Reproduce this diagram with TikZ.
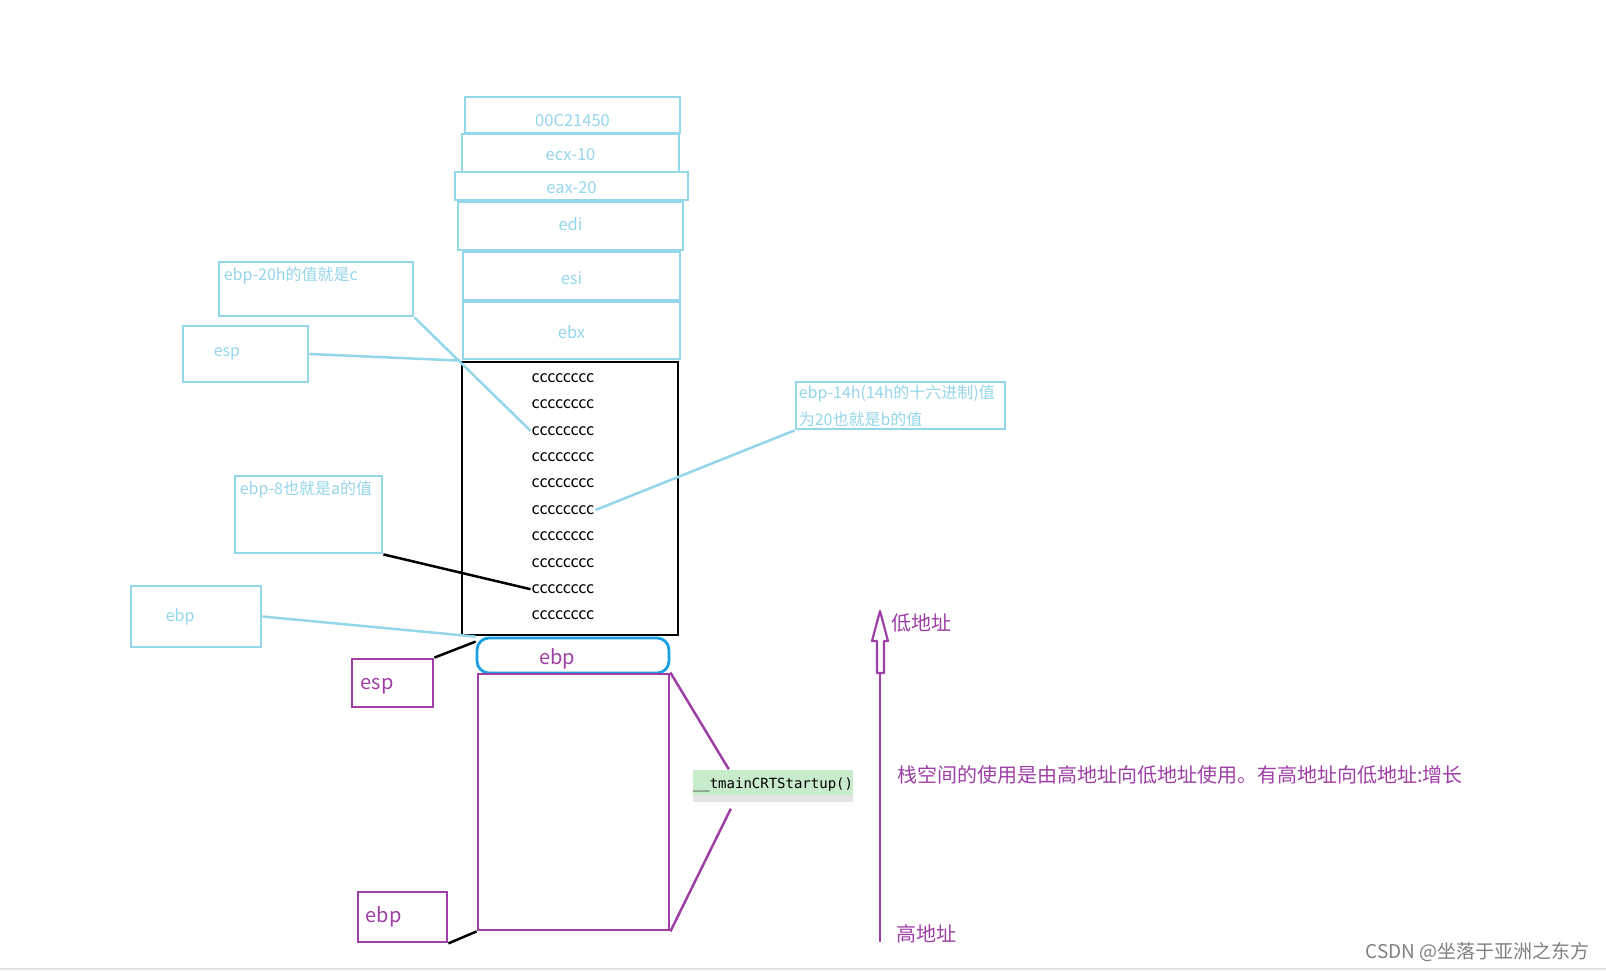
\documentclass[tikz,border=0pt]{standalone}
\usepackage{fontspec}
\setmainfont{Noto Sans CJK SC}
\newfontfamily\codefont{DejaVu Sans Mono}
\usetikzlibrary{positioning}
\definecolor{stackcyan}{HTML}{94D6EA}
\definecolor{stackpurple}{HTML}{9E3FA6}
\definecolor{slotblue}{HTML}{1B9FE3}
\definecolor{codegreen}{HTML}{C8ECCB}

\begin{document}
\begin{tikzpicture}[x=1pt,y=-1pt,
    cell/.style={draw=stackcyan,line width=2.8pt,inner sep=0pt},
    cell text/.style={text=stackcyan,inner sep=0pt,font=\fontsize{16.5}{19}\selectfont},
    note/.style={draw=stackcyan,line width=2.8pt,inner sep=0pt},
    note text/.style={text=stackcyan,inner sep=6pt,font=\fontsize{16}{27}\selectfont,align=left},
    crow/.style={inner sep=1pt,font=\fontsize{16}{19}\selectfont},
    reg/.style={draw=stackpurple,line width=2.8pt,inner sep=0pt},
    reg text/.style={text=stackpurple,inner sep=0pt,font=\fontsize{20}{24}\selectfont},
    addr/.style={text=stackpurple,font=\fontsize{20}{24}\selectfont,inner sep=0pt},
    cyanlink/.style={stackcyan,line width=2.5pt},
    blacklink/.style={black,line width=2.5pt},
    purplelink/.style={stackpurple,line width=2.5pt}]

  \useasboundingbox (0,0) rectangle (1606,971);
  \fill[white] (0,0) rectangle (1606,971);

  % saved registers, top of the stack
  \node[cell,minimum width=215pt,minimum height=36pt,label={[cell text,yshift=-5pt]center:00C21450}] (ret) at (572.5,115) {};
  \node[cell,minimum width=217pt,minimum height=38pt,label={[cell text,yshift=-1.5pt]center:ecx-10}] (ecx) at (570.5,153) {};
  \node[cell,minimum width=233pt,minimum height=28pt,label={[cell text,yshift=-1.5pt]center:eax-20}] (eax) at (571.5,186) {};
  \node[cell,minimum width=225pt,minimum height=48pt,label={[cell text,yshift=2pt]center:edi}] (edi) at (570.5,226) {};
  \node[cell,minimum width=217pt,minimum height=48pt,label={[cell text,yshift=-2pt]center:esi}] (esi) at (571.5,276) {};
  \node[cell,minimum width=217pt,minimum height=57pt,label={[cell text,yshift=-2pt]center:ebx}] (ebx) at (571.5,330.5) {};

  % local variable area
  \node[draw,line width=2.8pt,minimum width=216pt,minimum height=273pt,inner sep=0pt] (frame) at (570,498.5) {};
  \foreach \i in {1,...,10}
    \node[crow] (c\i) at (563,{378+26.4*(\i-1)}) {cccccccc};

  % notes
  \node[note,minimum width=194pt,minimum height=54pt,
        label={[note text,anchor=north west]north west:ebp-20h的值就是c}] (note20) at (316,289) {};
  \node[note,minimum width=125pt,minimum height=56pt,
        label={[note text,anchor=west,xshift=26pt]west:esp}] (espnote) at (245.5,354) {};
  \node[note,minimum width=209pt,minimum height=47pt,
        label={[note text,anchor=north west,inner sep=4pt]north west:{ebp-14h(14h的十六进制)值\\为20也就是b的值}}] (note14) at (900.5,405.5) {};
  \node[note,minimum width=147pt,minimum height=77pt,
        label={[note text,anchor=north west]north west:ebp-8也就是a的值}] (note8) at (308.5,514.5) {};
  \node[note,minimum width=130pt,minimum height=61pt,
        label={[note text,anchor=west,xshift=30pt]west:ebp}] (ebpnote) at (196,616.5) {};

  % caller frame
  \node[draw=slotblue,line width=2.8pt,rounded corners=12pt,minimum width=192pt,minimum height=35pt] (ebpslot) at (573,655.5) {};
  \node[reg text] (ebpslotlabel) at (557,659) {ebp};
  \node[reg,minimum width=191pt,minimum height=256pt] (caller) at (573.5,802) {};
  \node[reg,minimum width=81pt,minimum height=48pt,
        label={[reg text,anchor=west,xshift=10pt,yshift=-3pt]west:esp}] (espreg) at (392.5,683) {};
  \node[reg,minimum width=89pt,minimum height=50pt,
        label={[reg text,anchor=west,xshift=9pt]west:ebp}] (ebpreg) at (402.5,917) {};

  \node[fill=codegreen,minimum width=160pt,minimum height=25pt,inner sep=0pt,
        label={[inner sep=0pt,yshift=-3pt,font=\codefont\fontsize{14}{16}\selectfont]center:\_\_tmainCRTStartup()}] (tmain) at (773,782) {};
  \fill[black!10] (tmain.south west) rectangle ++(160,7);

  % connectors
  \draw[cyanlink] (note20.south east) -- (c3.west);
  \draw[cyanlink] (espnote.east) -- (frame.north west);
  \draw[cyanlink] (note14.south west) -- (c6.east);
  \draw[cyanlink] (ebpnote.east) -- (ebpslot.north west);
  \draw[blacklink] (note8.south east) -- (c9.west);
  \draw[blacklink] (espreg.north east) -- ([yshift=-5pt]ebpslot.north west);
  \draw[blacklink] (ebpreg.south east) -- (caller.south west);
  \draw[purplelink] (caller.north east) -- ([xshift=36pt]tmain.north west);
  \draw[purplelink] (caller.south east) -- ([xshift=38pt,yshift=-14pt]tmain.south west);

  % address direction
  \coordinate (hightip) at (880,942);
  \coordinate (shafttop) at (880,673);
  \draw[stackpurple,line width=2.2pt,line join=round]
    (880,611) -- (888,641) -- (884,641) -- (884,673) -- (877,673) -- (877,641) -- (872,641) -- cycle;
  \draw[stackpurple,line width=2.8pt] (shafttop) -- (hightip);
  \node[addr,anchor=west] (low)  at (891,623) {低地址};
  \node[addr,anchor=west] (high) at (896,934) {高地址};
  \node[addr,anchor=west] (usage) at (897,775) {栈空间的使用是由高地址向低地址使用。有高地址向低地址:增长};

  \node[anchor=east,text=black!50,font=\fontsize{19}{22}\selectfont,inner sep=0pt] (mark) at (1590,952) {CSDN @坐落于亚洲之东方};
  \draw[black!12,line width=1.5pt] (0,969) -- (1606,969);
\end{tikzpicture}
\end{document}
